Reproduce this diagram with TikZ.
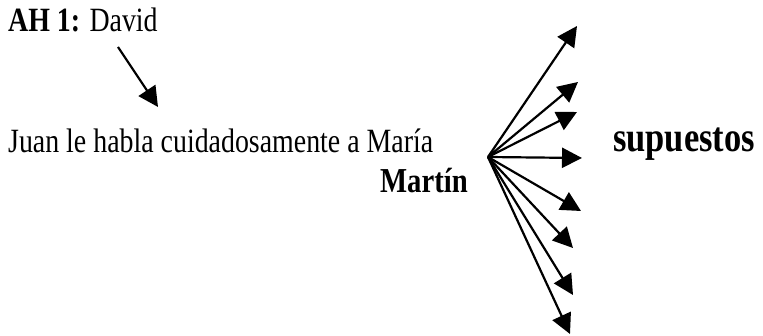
\documentclass[tikz,border=0pt]{standalone}
\usepackage{fontspec}
\setmainfont{Liberation Serif}[FakeStretch=0.82]
\usepackage{tikz}
\usetikzlibrary{arrows.meta}

\begin{document}
\begin{tikzpicture}[x=1pt,y=-1pt,
  lbl/.style={anchor=base west,inner sep=0pt,font=\fontsize{34}{40}\selectfont},
  big/.style={anchor=base west,inner sep=0pt,font=\fontsize{42}{50}\selectfont\bfseries},
  arr/.style={line width=2.2pt,-{Triangle[length=20pt,width=20pt]}}]
\useasboundingbox (0,0) rectangle (763,336);
\node[lbl] (ah)   at (8,32)   {\textbf{AH 1:} David};
\node[lbl] (sent) at (8,153)  {Juan le habla cuidadosamente a María};
\node[lbl,anchor=base east,font=\fontsize{35}{40}\selectfont\bfseries] (mart) at (468,193) {Martín};
\node[big] (sup)  at (613,152) {supuestos};
\coordinate (dav) at (118,47);
\coordinate (dtip) at (158,107);
\draw[arr] (dav) -- (dtip);
% fan of arrows from the hub
\coordinate (hub) at (488,157);
\foreach \tx/\ty [count=\i] in {577/26,578/82,577/112,582/158,581/211,573/248,573/295,570/334}
{
  \coordinate (t\i) at (\tx,\ty);
  \draw[arr] (hub) -- (t\i);
}
\end{tikzpicture}
\end{document}
